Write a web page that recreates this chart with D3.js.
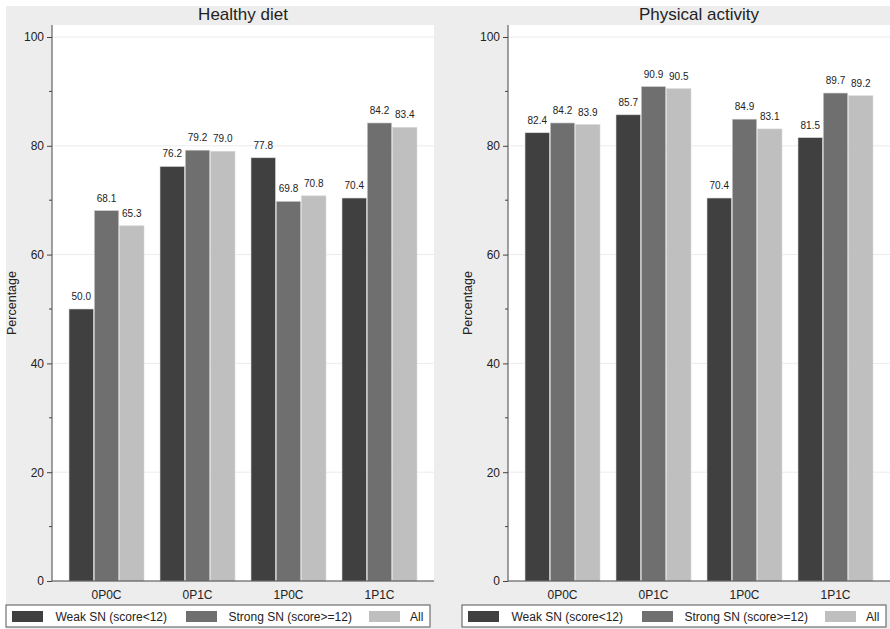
<!DOCTYPE html>
<html>
<head>
<meta charset="utf-8">
<script src="https://cdn.jsdelivr.net/npm/d3@7"></script>
<style>
  body { margin: 0; background: #fff; }
  text { font-family: "Liberation Sans", Arial, sans-serif; fill: #222; }
</style>
</head>
<body>
<svg id="chart"></svg>
<script>
let width = 890;
let height = 629;

// data
let categories = ["0P0C", "0P1C", "1P0C", "1P1C"];
let seriesNames = ["Weak SN (score<12)", "Strong SN (score>=12)", "All"];
let seriesColors = ["#404040", "#6f6f6f", "#bfbfbf"];
let yTicks = [0, 20, 40, 60, 80, 100];
let yMinorTicks = [10, 30, 50, 70, 90];

let dietWeak = [50.0, 76.2, 77.8, 70.4];
let dietStrong = [68.1, 79.2, 69.8, 84.2];
let dietAll = [65.3, 79.0, 70.8, 83.4];

let activityWeak = [82.4, 85.7, 70.4, 81.5];
let activityStrong = [84.2, 90.9, 84.9, 89.7];
let activityAll = [83.9, 90.5, 83.1, 89.2];

let svg = d3.select("#chart")
    .attr("width", width)
    .attr("height", height);

// grey page background with thin white margin
svg.append("rect")
    .attr("x", 6).attr("y", 6)
    .attr("width", width - 6).attr("height", height - 6)
    .attr("fill", "#ededed");

function panel(left, title, series) {
    let plotW = 382;
    let top = 25, bottom = 581;

    let x = d3.scaleBand()
        .domain(categories)
        .range([left, left + plotW])
        .paddingInner(0.176)
        .paddingOuter(0.187);

    let xSub = d3.scaleBand()
        .domain(d3.range(seriesNames.length))
        .range([0, x.bandwidth()])
        .paddingInner(0.03);

    let y = d3.scaleLinear()
        .domain([0, 100])
        .range([bottom, 37]);

    let g = svg.append("g");

    // white plot region
    g.append("rect")
        .attr("x", left).attr("y", top)
        .attr("width", plotW).attr("height", bottom - top)
        .attr("fill", "#fff");

    // faint gridlines
    g.selectAll(".grid")
        .data(yTicks.slice(1))
        .enter().append("line")
        .attr("x1", left).attr("x2", left + plotW)
        .attr("y1", d => y(d)).attr("y2", d => y(d))
        .attr("stroke", "#ececec")
        .attr("stroke-width", 1);

    // bars
    let rows = categories.map((c, i) => series.map((s, j) => ({ cat: c, k: j, v: s[i] })));
    let groups = g.selectAll(".grp")
        .data(rows)
        .enter().append("g")
        .attr("transform", (d, i) => "translate(" + x(categories[i]) + ",0)");

    groups.selectAll("rect")
        .data(d => d)
        .enter().append("rect")
        .attr("x", d => xSub(d.k))
        .attr("y", d => y(d.v))
        .attr("width", xSub.bandwidth())
        .attr("height", d => y(0) - y(d.v))
        .attr("fill", d => seriesColors[d.k])
        .attr("stroke", "#d8d8d8")
        .attr("stroke-width", 0.6);

    groups.selectAll("text")
        .data(d => d)
        .enter().append("text")
        .attr("x", d => xSub(d.k) + xSub.bandwidth() / 2)
        .attr("y", d => y(d.v) - 9)
        .attr("text-anchor", "middle")
        .attr("font-size", "10px")
        .text(d => d3.format(".1f")(d.v));

    // y axis
    let yAxis = d3.axisLeft(y).tickValues(yTicks).tickSize(5).tickPadding(3);
    let ya = g.append("g")
        .attr("transform", "translate(" + left + ",0)")
        .call(yAxis);
    ya.select(".domain").remove();
    ya.selectAll("line").attr("stroke", "#444");
    ya.selectAll("text").attr("font-size", "12px").attr("fill", "#222");

    g.selectAll(".minor")
        .data(yMinorTicks)
        .enter().append("line")
        .attr("x1", left - 3).attr("x2", left)
        .attr("y1", d => y(d)).attr("y2", d => y(d))
        .attr("stroke", "#444");

    g.append("line")
        .attr("x1", left).attr("x2", left)
        .attr("y1", top).attr("y2", bottom)
        .attr("stroke", "#444");

    // x axis
    g.append("line")
        .attr("x1", left).attr("x2", left + plotW)
        .attr("y1", bottom).attr("y2", bottom)
        .attr("stroke", "#444");

    g.selectAll(".xlab")
        .data(categories)
        .enter().append("text")
        .attr("x", d => x(d) + x.bandwidth() / 2)
        .attr("y", 599)
        .attr("text-anchor", "middle")
        .attr("font-size", "12px")
        .text(d => d);

    // titles
    g.append("text")
        .attr("x", left + plotW / 2)
        .attr("y", 20)
        .attr("text-anchor", "middle")
        .attr("font-size", "17px")
        .text(title);

    g.append("text")
        .attr("transform", "translate(" + (left - 36) + "," + ((top + bottom) / 2) + ") rotate(-90)")
        .attr("text-anchor", "middle")
        .attr("font-size", "12.5px")
        .text("Percentage");

    // legend
    let lx = left - 46;
    g.append("rect")
        .attr("x", lx).attr("y", 605)
        .attr("width", 424).attr("height", 22)
        .attr("fill", "#fff")
        .attr("stroke", "#555");

    let swatchX = [6, 180, 363];
    let textX = [49.5, 222.5, 404];
    seriesNames.forEach((name, j) => {
        g.append("rect")
            .attr("x", lx + swatchX[j]).attr("y", 611)
            .attr("width", 31).attr("height", 11)
            .attr("fill", seriesColors[j]);
        g.append("text")
            .attr("x", lx + textX[j]).attr("y", 621)
            .attr("font-size", "12px")
            .text(name);
    });
}

panel(52, "Healthy diet", [dietWeak, dietStrong, dietAll]);
panel(508, "Physical activity", [activityWeak, activityStrong, activityAll]);
</script>
</body>
</html>
